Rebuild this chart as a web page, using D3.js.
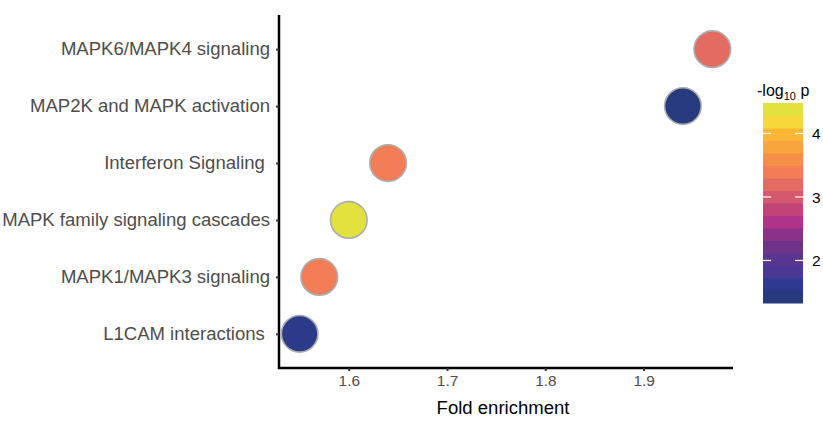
<!DOCTYPE html>
<html>
<head>
<meta charset="utf-8">
<script src="https://cdn.jsdelivr.net/npm/d3@7"></script>
<style>
  body { margin: 0; background: #fff; }
  text { font-family: "Liberation Sans", Arial, sans-serif; }
</style>
</head>
<body>
<svg id="chart"></svg>
<script>
const width = 823, height = 421;
const margin = { top: 15, right: 90, bottom: 53, left: 279 };
const stretch = 1.06; // reference text is a little wider than Arial

// pathways, top to bottom as drawn
const pathways = [
    "MAPK6/MAPK4 signaling",
    "MAP2K and MAPK activation",
    "Interferon Signaling ",
    "MAPK family signaling cascades",
    "MAPK1/MAPK3 signaling",
    "L1CAM interactions "
];
const foldEnrichment = [1.97, 1.94, 1.64, 1.60, 1.57, 1.55];
const negLog10P = [3.2, 1.33, 3.4, 4.48, 3.4, 1.55];

const xTicks = [1.6, 1.7, 1.8, 1.9];
const legendTicks = [2, 3, 4];
const paletteStops = ["#283a7e", "#2e3a91", "#4a3893", "#583590", "#6f3289", "#8c3189",
    "#ae3389", "#c14477", "#d4596e", "#e46b62", "#f27d56", "#f68f48",
    "#f9a53e", "#fab634", "#f7d83a", "#e1e23e"];

const data = pathways.map((p, i) => ({ name: p, fe: foldEnrichment[i], lp: negLog10P[i] }));

const svg = d3.select("#chart").attr("width", width).attr("height", height);

const xExt = d3.extent(foldEnrichment);
const pad = (xExt[1] - xExt[0]) * 0.05;
const x = d3.scaleLinear()
    .domain([xExt[0] - pad, xExt[1] + pad])
    .range([margin.left, 733]);

const y = d3.scalePoint()
    .domain(pathways)
    .range([margin.top, height - margin.bottom])
    .padding(0.6);

const cExt = d3.extent(negLog10P);
const nBin = paletteStops.length;
const binCenters = d3.range(nBin).map(i => cExt[0] + (i + 0.5) / nBin * (cExt[1] - cExt[0]));
const color = d3.scaleLinear().domain(binCenters).range(paletteStops).clamp(true);

// axes
const xAxis = svg.append("g")
    .attr("transform", `translate(0,${height - margin.bottom})`)
    .call(d3.axisBottom(x).tickValues(xTicks).tickSize(3).tickPadding(5).tickFormat(d3.format(".1f")));
xAxis.select(".domain").attr("stroke", "#000").attr("stroke-width", 2.5)
    .attr("d", `M${margin.left - 1},0H733`);
xAxis.selectAll(".tick line").attr("stroke", "#333").attr("stroke-width", 2);
xAxis.selectAll(".tick text").attr("fill", "#4d4d4d").attr("font-size", 14.5)
    .attr("transform", `scale(${stretch},1)`);

const yAxis = svg.append("g")
    .attr("transform", `translate(${margin.left},0)`)
    .call(d3.axisLeft(y).tickSize(3).tickPadding(6));
yAxis.select(".domain").attr("stroke", "#000").attr("stroke-width", 2.5)
    .attr("d", `M0,${margin.top}V${height - margin.bottom + 1}`);
yAxis.selectAll(".tick line").attr("stroke", "#333").attr("stroke-width", 2);
yAxis.selectAll(".tick text").attr("fill", "#4d4d4d").attr("font-size", 17.5)
    .attr("x", -9 / stretch)
    .attr("transform", `scale(${stretch},1)`)
    .style("white-space", "pre");

svg.append("text")
    .attr("transform", `translate(${(margin.left + 733) / 2 - 3},414) scale(${stretch},1)`)
    .attr("text-anchor", "middle")
    .attr("font-size", 17.5)
    .attr("fill", "#000")
    .text("Fold enrichment");

// points
svg.append("g")
    .selectAll("circle")
    .data(data)
    .join("circle")
    .attr("cx", d => x(d.fe))
    .attr("cy", d => y(d.name))
    .attr("r", 18.3)
    .attr("fill", d => color(d.lp))
    .attr("stroke", "#adadad")
    .attr("stroke-width", 1.6);

// colour bar legend
const lg = { x: 763, top: 103, bottom: 303, w: 40 };
const ly = d3.scaleLinear().domain(cExt).range([lg.bottom, lg.top]);
const binH = (lg.bottom - lg.top) / nBin;

svg.append("g")
    .selectAll("rect")
    .data(binCenters)
    .join("rect")
    .attr("x", lg.x)
    .attr("y", (d, i) => lg.bottom - (i + 1) * binH)
    .attr("width", lg.w)
    .attr("height", binH + 0.5)
    .attr("fill", d => color(d));

const lt = svg.append("g").selectAll("g").data(legendTicks).join("g");
lt.append("line")
    .attr("x1", lg.x).attr("x2", lg.x + 8)
    .attr("y1", d => ly(d)).attr("y2", d => ly(d))
    .attr("stroke", "#fff").attr("stroke-width", 1.2);
lt.append("line")
    .attr("x1", lg.x + lg.w - 8).attr("x2", lg.x + lg.w)
    .attr("y1", d => ly(d)).attr("y2", d => ly(d))
    .attr("stroke", "#fff").attr("stroke-width", 1.2);
lt.append("text")
    .attr("x", 812)
    .attr("y", d => ly(d))
    .attr("dy", "0.36em")
    .attr("font-size", 15.5)
    .attr("fill", "#000")
    .text(d => d);

const title = svg.append("text")
    .attr("x", 757)
    .attr("y", 96)
    .attr("font-size", 16)
    .attr("fill", "#000");
title.append("tspan").text("-log");
title.append("tspan").attr("font-size", 11).attr("dy", 4).text("10");
title.append("tspan").attr("dy", -4).text(" p");
</script>
</body>
</html>
